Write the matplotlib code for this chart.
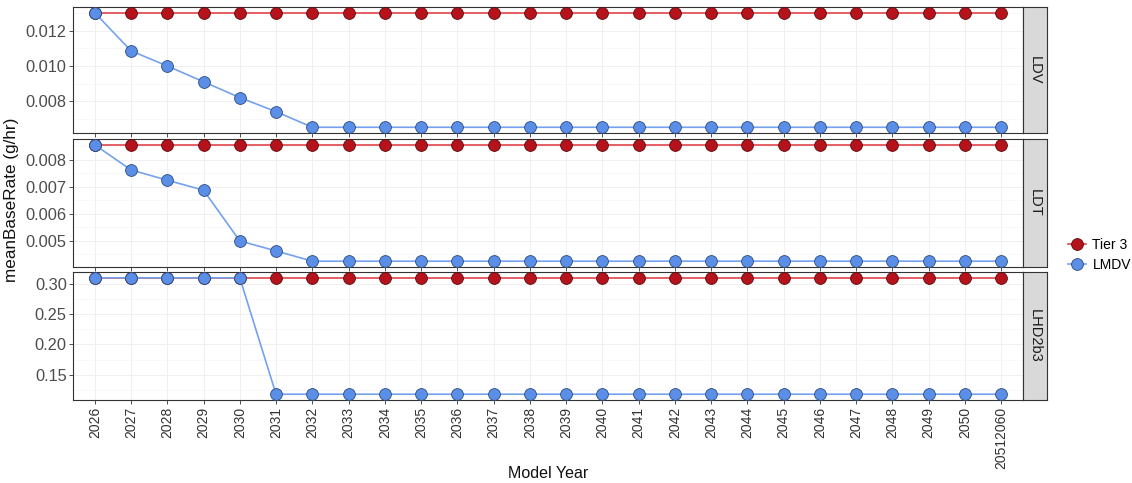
import numpy as np
import matplotlib
matplotlib.use("Agg")
import matplotlib.pyplot as plt
from matplotlib.lines import Line2D
from matplotlib.ticker import MultipleLocator

plt.rcParams['font.family'] = ['Liberation Sans', 'DejaVu Sans']

years = [str(y) for y in range(2026, 2051)] + ["20512060"]
panels = ["LDV", "LDT", "LHD2b3"]

tier3_ldv = [0.01303] * 26
lmdv_ldv = [0.01303, 0.01086, 0.0100, 0.0091, 0.0082, 0.0074] + [0.00651] * 20

tier3_ldt = [0.00856] * 26
lmdv_ldt = [0.00856, 0.00763, 0.00725, 0.00688, 0.00500, 0.00463] + [0.00425] * 20

tier3_lhd = [0.31] * 26
lmdv_lhd = [0.31] * 5 + [0.118] * 21

tier3 = [tier3_ldv, tier3_ldt, tier3_lhd]
lmdv = [lmdv_ldv, lmdv_ldt, lmdv_lhd]
yticks = [[0.008, 0.010, 0.012], [0.005, 0.006, 0.007, 0.008], [0.15, 0.20, 0.25, 0.30]]
yfmt = ["%.3f", "%.3f", "%.2f"]

RED_PT, RED_LN = "#b5121b", "#e0444a"
BLUE_PT, BLUE_LN = "#5b8ee6", "#74a2ee"

W, H = 1132, 483
fig = plt.figure(figsize=(W / 100, H / 100), dpi=100)

left, right = 73, 1023
strip_r = 1047
rows = [(7, 133), (139, 267), (272, 400)]

x = np.arange(len(years))
for i, (top, bot) in enumerate(rows):
    ax = fig.add_axes([left / W, 1 - bot / H, (right - left) / W, (bot - top) / H])
    ax.plot(x, tier3[i], color=RED_LN, lw=1.2, zorder=2)
    ax.plot(x, tier3[i], 'o', ms=8.5, mfc=RED_PT, mec="#5a0a0a", mew=0.6, zorder=3)
    ax.plot(x, lmdv[i], color=BLUE_LN, lw=1.2, zorder=4)
    ax.plot(x, lmdv[i], 'o', ms=8.5, mfc=BLUE_PT, mec="#2b4a80", mew=0.6, zorder=5)

    allv = tier3[i] + lmdv[i]
    lo, hi = min(allv), max(allv)
    pad = (hi - lo) * 0.05
    ax.set_ylim(lo - pad, hi + pad)
    ax.set_xlim(-0.6, len(years) - 0.4)

    ax.set_yticks(yticks[i])
    ax.set_yticklabels([yfmt[i] % v for v in yticks[i]])
    step = yticks[i][1] - yticks[i][0]
    ax.yaxis.set_minor_locator(MultipleLocator(step / 2))
    ax.set_xticks(x)
    if i == 2:
        ax.set_xticklabels(years, rotation=90, fontsize=10, color="#4d4d4d")
    else:
        ax.set_xticklabels([])
    ax.tick_params(axis='y', labelsize=11.8, colors="#333333", labelcolor="#4d4d4d",
                   length=3, width=0.6, pad=1.5)
    ax.tick_params(axis='x', colors="#333333", length=3, width=0.6, pad=2)
    ax.tick_params(axis='y', which='minor', length=0)
    ax.grid(True, which='major', color="#eeeeee", lw=0.6, zorder=0)
    ax.grid(True, which='minor', axis='y', color="#f4f4f4", lw=0.4, zorder=0)
    for s in ax.spines.values():
        s.set_color("#333333")
        s.set_linewidth(0.8)

    sax = fig.add_axes([right / W, 1 - bot / H, (strip_r - right) / W, (bot - top) / H])
    sax.set_facecolor("#d9d9d9")
    sax.set_xticks([])
    sax.set_yticks([])
    for s in sax.spines.values():
        s.set_color("#333333")
        s.set_linewidth(0.8)
    sax.text(0.5, 0.5, panels[i], rotation=-90, ha='center', va='center',
             fontsize=10.5, color="#1a1a1a", transform=sax.transAxes)

fig.text(12 / W, 1 - 200 / H, "meanBaseRate (g/hr)", rotation=90, ha='center', va='center',
         fontsize=12.3, color="#111111")
fig.text((left + right) / 2 / W, 1 - 474 / H, "Model Year", ha='center', va='center',
         fontsize=11.5, color="#111111")

handles = [
    Line2D([0], [0], color=RED_LN, lw=1.2, marker='o', ms=8.5, mfc=RED_PT, mec="#5a0a0a", mew=0.6),
    Line2D([0], [0], color=BLUE_LN, lw=1.2, marker='o', ms=8.5, mfc=BLUE_PT, mec="#2b4a80", mew=0.6),
]
fig.legend(handles, ["Tier 3", "LMDV"], loc='center left', bbox_to_anchor=(1055 / W, 1 - 255 / H),
           frameon=False, fontsize=10, handlelength=1.3, handletextpad=0.5, labelspacing=0.45)

fig.savefig("out.png", dpi=100)
